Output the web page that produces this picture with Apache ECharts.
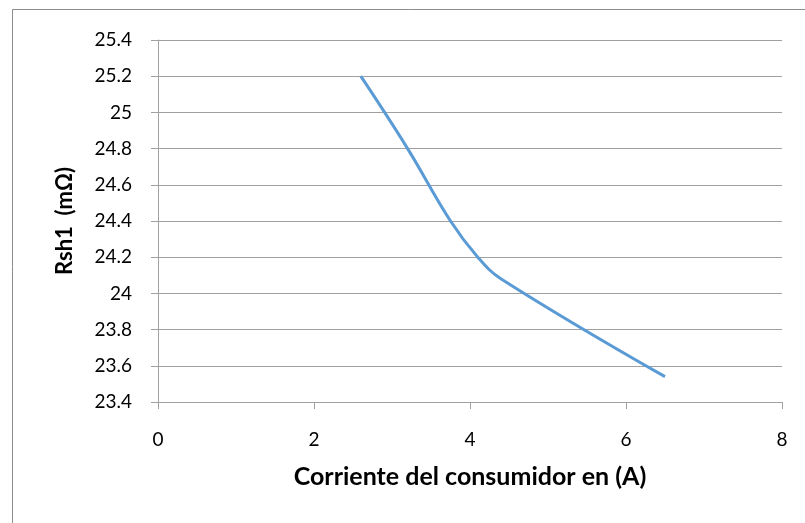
<!DOCTYPE html>
<html>
<head>
<meta charset="utf-8">
<script src="https://cdn.jsdelivr.net/npm/echarts@6/dist/echarts.min.js"></script>
<style>html,body{margin:0;padding:0;background:#fff}#c{width:805px;height:523px}</style>
</head>
<body>
<div id="c"></div>
<script>
// Data
const currents = [2.6, 3.2, 3.75, 4.1, 4.4, 6.5];
const rsh1 = [25.2, 24.8, 24.4, 24.2, 24.08, 23.54];
const xTitle = 'Corriente del consumidor en (A)';
const yTitle = 'Rsh1  (mΩ)';

const points = currents.map((c, i) => [c, rsh1[i]]);
const FONT = 'Lato, "Open Sans", sans-serif';

const chart = echarts.init(document.getElementById('c'), null, {renderer: 'canvas'});
chart.setOption({
  animation: false,
  backgroundColor: '#fff',
  graphic: [{
    type: 'rect', silent: true,
    shape: {x: 12.5, y: 9.5, width: 900, height: 600},
    style: {fill: 'none', stroke: '#8c8c8c', lineWidth: 1}
  }],
  grid: {left: 158, right: 23, top: 40, bottom: 121, containLabel: false},
  xAxis: {
    type: 'value', min: 0, max: 8, interval: 2,
    name: xTitle, nameLocation: 'middle', nameGap: 62,
    nameTextStyle: {fontFamily: FONT, fontSize: 25, fontWeight: 'bold', color: '#000'},
    axisLine: {show: true, onZero: false, lineStyle: {color: '#a0a0a0', width: 1}},
    axisTick: {show: true, length: 7, lineStyle: {color: '#a0a0a0'}},
    axisLabel: {fontFamily: FONT, fontSize: 19, color: '#000', margin: 28},
    splitLine: {show: false}
  },
  yAxis: {
    type: 'value', min: 23.4, max: 25.4, interval: 0.2,
    name: yTitle, nameLocation: 'middle', nameGap: 82, nameRotate: 90,
    nameTextStyle: {fontFamily: FONT, fontSize: 22, fontWeight: 'bold', color: '#000'},
    axisLine: {show: true, lineStyle: {color: '#a0a0a0', width: 1}},
    axisTick: {show: true, length: 7, lineStyle: {color: '#a0a0a0'}},
    axisLabel: {fontFamily: FONT, fontSize: 19, color: '#000', margin: 26,
      formatter: v => String(+v.toFixed(1))},
    splitLine: {show: true, lineStyle: {color: '#a0a0a0', width: 1}}
  },
  series: [{
    type: 'line', data: points, smooth: 0.4, showSymbol: false,
    lineStyle: {color: '#5b9bd5', width: 3}, itemStyle: {color: '#5b9bd5'}
  }]
});
</script>
</body>
</html>
